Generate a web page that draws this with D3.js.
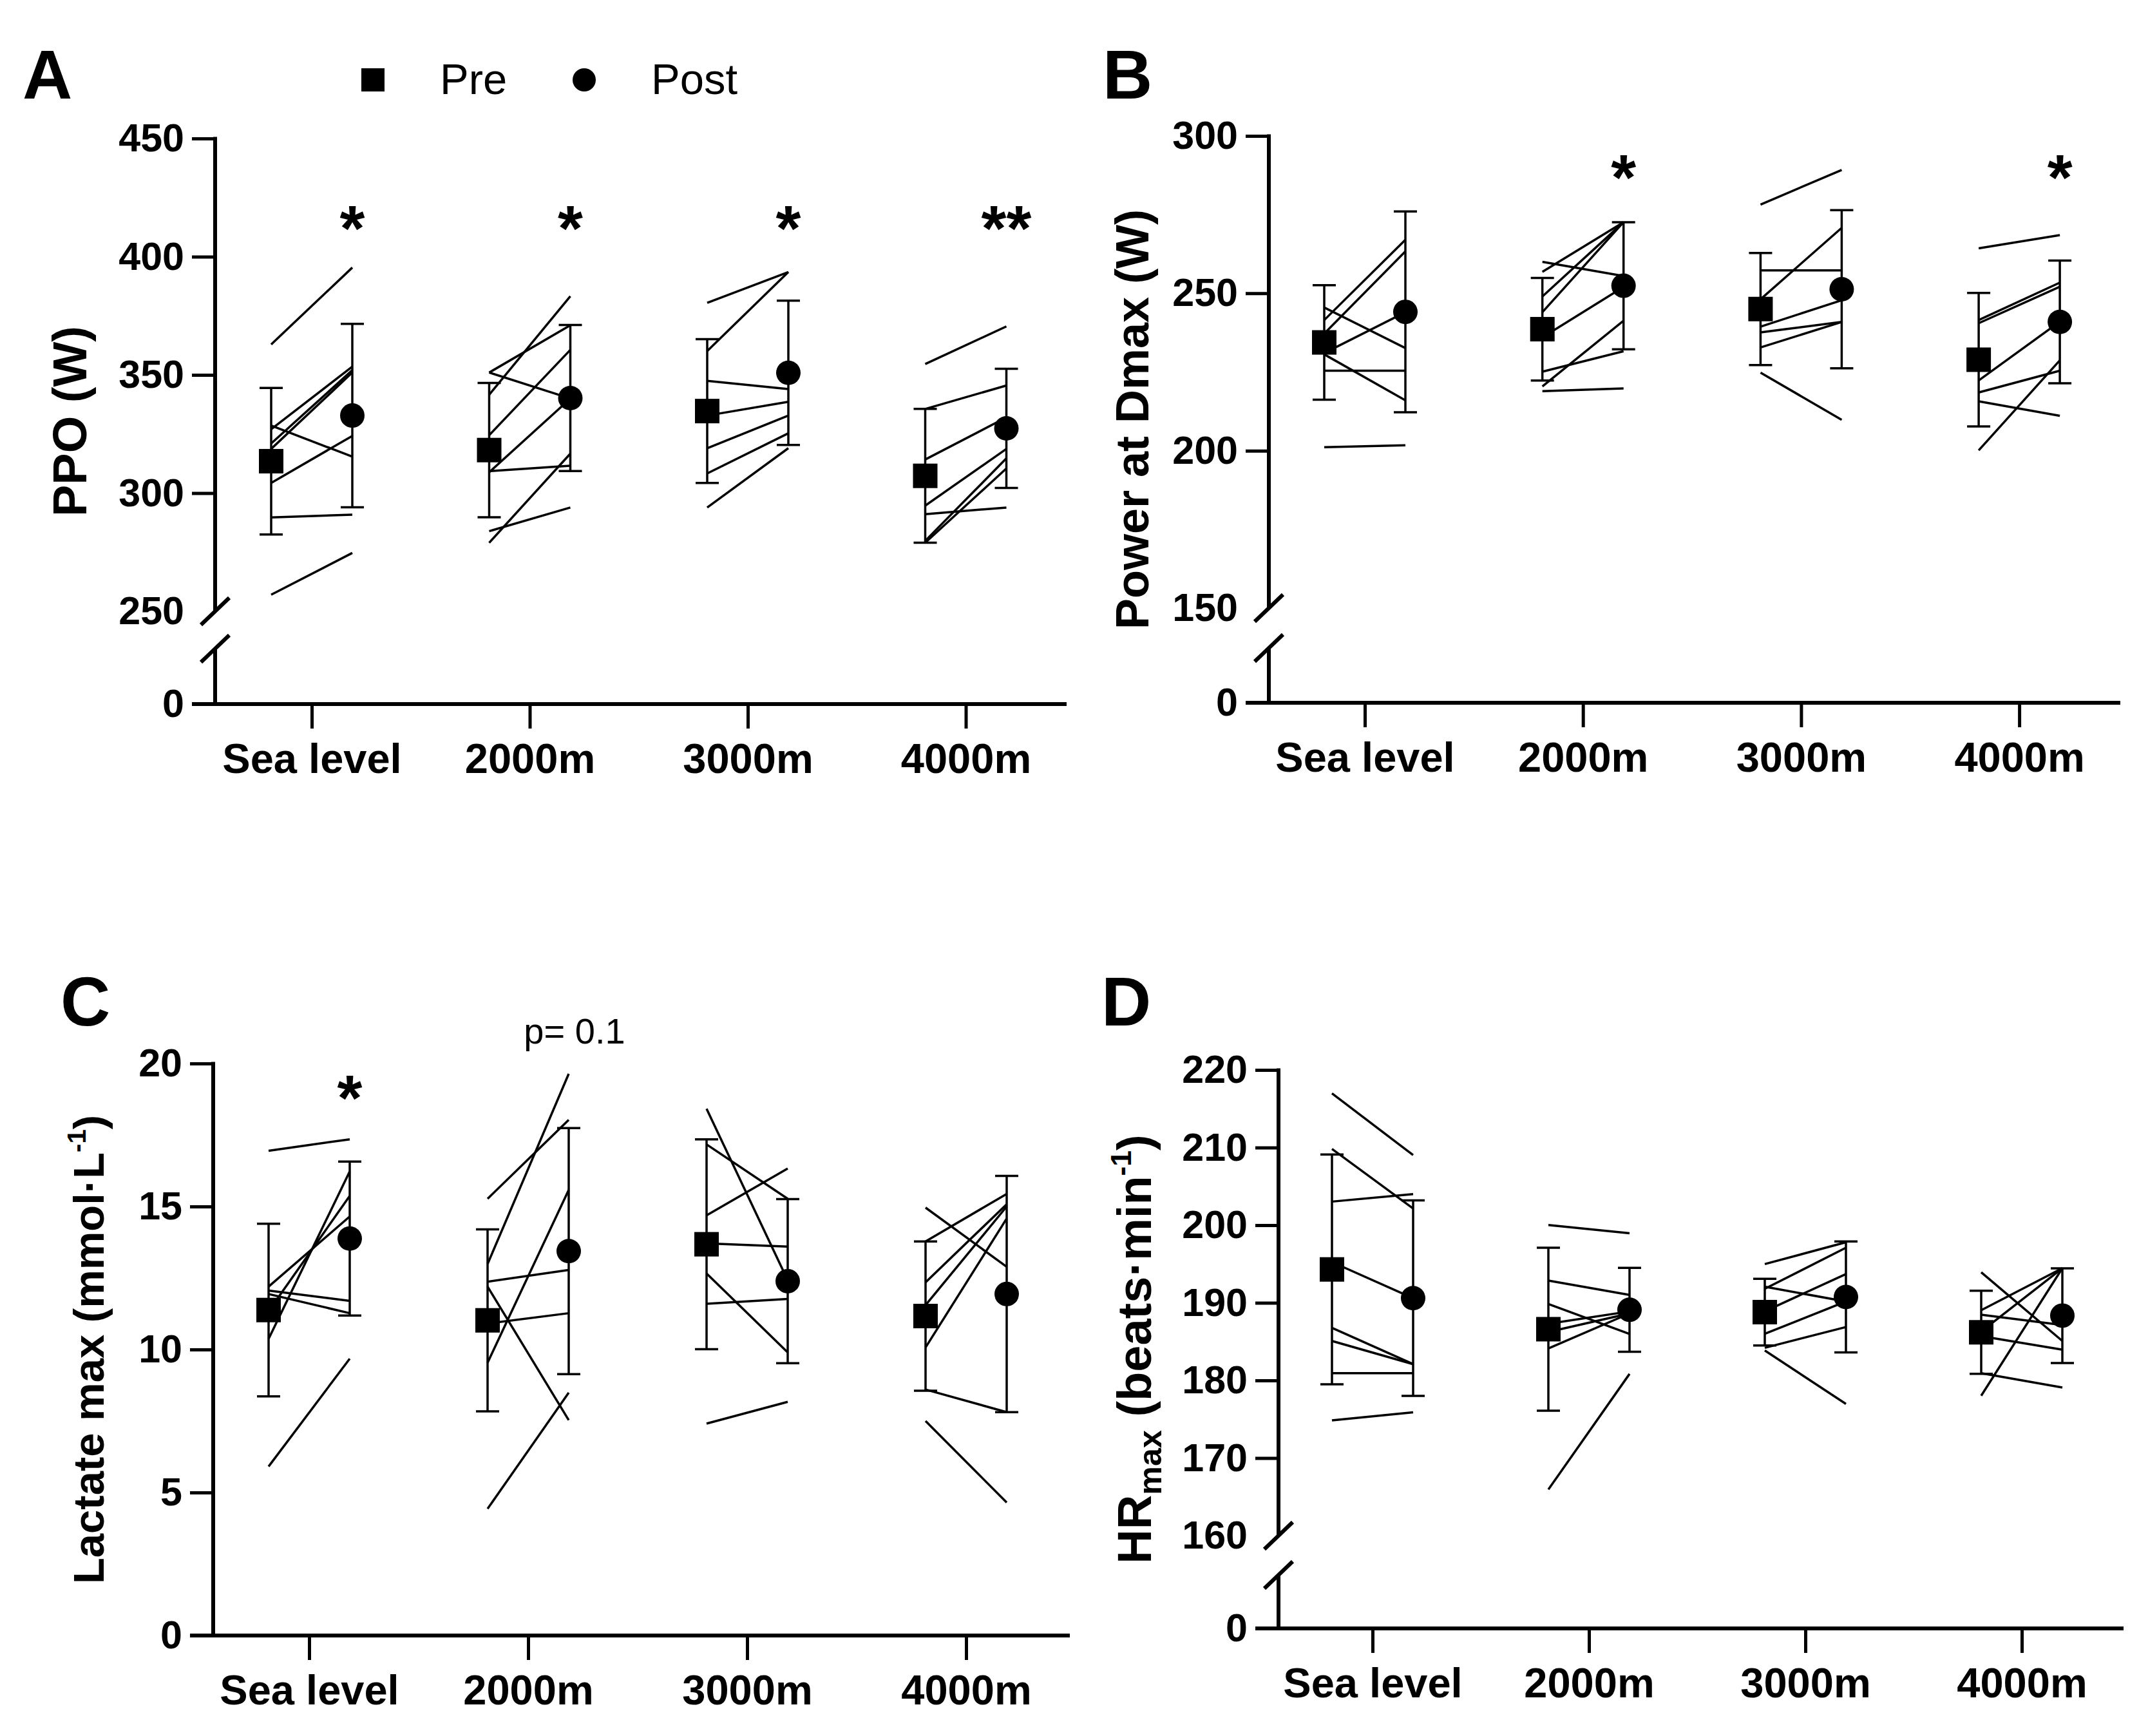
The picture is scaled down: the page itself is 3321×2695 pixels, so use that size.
<!DOCTYPE html>
<html>
<head>
<meta charset="utf-8">
<script src="https://cdn.jsdelivr.net/npm/d3@7"></script>
<style>
  body { margin: 0; background: #fff; }
  svg { display: block; }
  text { font-family: "Liberation Sans", Arial, sans-serif; fill: #000; }
</style>
</head>
<body>
<script>
// categories
const altitudes = ["Sea level", "2000m", "3000m", "4000m"];

// A - peak power output (W), one line per subject
const ppoTicks = [250, 300, 350, 400, 450];
const ppoPre = [
  [362.9, 328.6, 327, 321, 318.7, 304.3, 289.7, 257],
  [341.6, 351, 351, 324.5, 308.8, 309.3, 283.9, 279],
  [380.5, 360.1, 347.5, 332.8, 319, 308.3, 293.9],
  [354.6, 335.6, 314.2, 294.7, 291.1, 279.8, 279]
];
const ppoPost = [
  [395.4, 315.4, 353.5, 352, 351, 324.2, 290.9, 274.7],
  [383.3, 371, 340, 360.6, 340, 311.6, 293.9, 316.7],
  [393.5, 393.5, 344, 338.6, 332.8, 325.3, 319],
  [370.5, 345.5, 332, 318.7, 293.9, 314.7, 310.4]
];
const ppoPreMean = [313.5, 318.2, 334.7, 307.3];
const ppoPreSD = [31, 28.4, 30.4, 28.3];
const ppoPostMean = [332.8, 340.2, 350.9, 327.4];
const ppoPostSD = [38.8, 30.9, 30.5, 25.2];
const ppoStars = ["*", "*", "*", "**"];

// B - power at Dmax (W)
const dmaxTicks = [150, 200, 250, 300];
const dmaxPre = [
  [241.5, 237.2, 245.5, 231, 230.6, 225.4, 201.1],
  [260, 256.8, 249, 244, 236, 225.1, 220.4, 218.9],
  [278.2, 257.3, 248.1, 239.4, 237.6, 232.8, 224.8],
  [264.3, 241.5, 240.5, 222.3, 218.5, 215.7, 200.1]
];
const dmaxPost = [
  [267, 263.3, 232.6, 244, 216, 225.4, 201.7],
  [255.5, 272.6, 272.6, 272.6, 252, 231.6, 241.3, 219.8],
  [289.2, 257.3, 270.8, 247.8, 240.9, 240.9, 209.8],
  [268.5, 253.4, 252.1, 241, 225.4, 211.1, 228.7]
];
const dmaxPreMean = [234.4, 238.6, 245, 228.9];
const dmaxPreSD = [18.2, 16.3, 17.8, 21.2];
const dmaxPostMean = [244.1, 252.4, 251.3, 240.9];
const dmaxPostSD = [31.9, 20.2, 25.1, 19.5];
const dmaxStars = ["", "*", "", "*"];

// C - maximal lactate (mmol/L)
const lacTicks = [0, 5, 10, 15, 20];
const lacPre = [
  [16.95, 12.2, 12.06, 11.94, 11.34, 10.37, 5.91],
  [15.27, 12.99, 12.37, 12.2, 10.91, 9.54, 4.43],
  [18.42, 17.17, 14.69, 13.71, 12.66, 11.6, 7.41],
  [14.96, 13.78, 12.35, 11.55, 10.07, 8.6, 7.5]
];
const lacPost = [
  [17.35, 14.65, 11.7, 11.27, 15.37, 16.23, 9.68],
  [18.03, 19.64, 12.78, 7.53, 11.27, 15.58, 8.49],
  [12.42, 15.27, 16.33, 13.6, 9.9, 11.77, 8.17],
  [12.89, 15.44, 15.08, 15.0, 14.58, 7.81, 4.65]
];
const lacPreMean = [11.38, 11.02, 13.68, 11.17];
const lacPreSD = [3.02, 3.18, 3.67, 2.61];
const lacPostMean = [13.88, 13.44, 12.39, 11.94];
const lacPostSD = [2.69, 4.3, 2.87, 4.13];
const lacStars = ["*", "", "", ""];
const lacNotes = ["", "p= 0.1", "", ""];

// D - maximal heart rate (beats/min)
const hrTicks = [160, 170, 180, 190, 200, 210, 220];
const hrPre = [
  [216.98, 209.83, 203.04, 195.25, 186.77, 185.08, 180.94, 174.85],
  [200.03, 192.87, 189.85, 187.3, 186.24, 184.12, 165.95],
  [194.99, 191.8, 192.07, 188.9, 186.0, 184.2, 183.86],
  [193.93, 189.05, 188.47, 185.71, 186.3, 180.94, 178.03]
];
const hrPost = [
  [209.03, 202.14, 204, 190.59, 182.1, 182.1, 180.94, 175.9],
  [198.96, 191.01, 185.98, 188.89, 188.63, 188.63, 180.84],
  [197.8, 197.1, 190.17, 193.71, 190.17, 186.88, 176.97],
  [185.08, 194.46, 187.14, 183.96, 194.46, 179.09, 194.46]
];
const hrPreMean = [194.3, 186.6, 188.8, 186.2];
const hrPreSD = [14.8, 10.5, 4.3, 5.35];
const hrPostMean = [190.6, 189.1, 190.75, 188.35];
const hrPostSD = [12.6, 5.4, 7.15, 6.1];

const W = 3321, H = 2695;
const svg = d3.select("body").append("svg")
    .attr("width", W)
    .attr("height", H);

// panel layout (pixels)
const panels = [
  {letter: "A", letterX: 35, letterY: 153,
   pre: ppoPre, post: ppoPost, preMean: ppoPreMean, preSD: ppoPreSD, postMean: ppoPostMean, postSD: ppoPostSD,
   ticks: ppoTicks, left: 334, xFirst: 484, xStep: 338.5, xEnd: 1656,
   topY: 215, lowY: 949, breakY: 1007, zeroY: 1093,
   stars: ppoStars, starLevel: 418,
   title: [{t: "PPO (W)"}], titleX: 134, titleSize: 74},
  {letter: "B", letterX: 1712, letterY: 153,
   pre: dmaxPre, post: dmaxPost, preMean: dmaxPreMean, preSD: dmaxPreSD, postMean: dmaxPostMean, postSD: dmaxPostSD,
   ticks: dmaxTicks, left: 1970, xFirst: 2119, xStep: 338.7, xEnd: 3292,
   topY: 211, lowY: 944, breakY: 1006, zeroY: 1091,
   stars: dmaxStars, starLevel: 291.5,
   title: [{t: "Power at Dmax (W)"}], titleX: 1783, titleSize: 72},
  {letter: "C", letterX: 94, letterY: 1592,
   pre: lacPre, post: lacPost, preMean: lacPreMean, preSD: lacPreSD, postMean: lacPostMean, postSD: lacPostSD,
   ticks: lacTicks, left: 331, xFirst: 480, xStep: 340, xEnd: 1661,
   topY: 1651, lowY: 2539, breakY: null, zeroY: 2539,
   stars: lacStars, starLevel: 19.3, notes: lacNotes, noteLevel: 20.7,
   title: [{t: "Lactate max (mmol·L"}, {t: "-1", sup: true}, {t: ")"}], titleX: 161, titleSize: 67},
  {letter: "D", letterX: 1710, letterY: 1592,
   pre: hrPre, post: hrPost, preMean: hrPreMean, preSD: hrPreSD, postMean: hrPostMean, postSD: hrPostSD,
   ticks: hrTicks, left: 1985, xFirst: 2131, xStep: 336, xEnd: 3297,
   topY: 1661, lowY: 2384, breakY: 2445, zeroY: 2528,
   stars: null, starLevel: 0,
   title: [{t: "HR"}, {t: "max", sub: true}, {t: " (beats·min"}, {t: "-1", sup: true}, {t: ")"}], titleX: 1787, titleSize: 74}
];

const offset = 63;      // pre / post shift from the category tick
const axisW = 6, lineW = 3.5;
const tickFont = "61px";

panels.forEach(drawPanel);

function drawPanel(p) {
  const g = svg.append("g");

  const x = d3.scalePoint()
      .domain(altitudes)
      .range([p.xFirst, p.xFirst + 3 * p.xStep]);
  const y = d3.scaleLinear()
      .domain([p.ticks[0], p.ticks[p.ticks.length - 1]])
      .range([p.lowY, p.topY]);

  // y axis (upper part)
  const yAx = g.append("g")
      .attr("transform", `translate(${p.left},0)`)
      .call(d3.axisLeft(y).tickValues(p.ticks).tickSize(36).tickPadding(12).tickSizeOuter(0));
  yAx.select(".domain").remove();
  yAx.selectAll("line").attr("stroke", "#000").attr("stroke-width", 5);
  yAx.selectAll("text").style("font-size", tickFont).style("font-weight", "bold");
  if (p.breakY) {
    // broken axis: no tick at the lowest value
    yAx.selectAll(".tick").filter(d => d === p.ticks[0]).select("line").remove();
  }

  g.append("line")
      .attr("x1", p.left).attr("x2", p.left)
      .attr("y1", p.topY - 2.5).attr("y2", p.breakY ? p.lowY : p.zeroY)
      .attr("stroke", "#000").attr("stroke-width", axisW);

  if (p.breakY) {
    // lower stub with the zero tick
    const y0 = d3.scaleLinear().domain([0, p.ticks[0]]).range([p.zeroY, p.lowY]);
    const zAx = g.append("g")
        .attr("transform", `translate(${p.left},0)`)
        .call(d3.axisLeft(y0).tickValues([0]).tickSize(36).tickPadding(12).tickSizeOuter(0));
    zAx.select(".domain").remove();
    zAx.selectAll("line").attr("stroke", "#000").attr("stroke-width", 5);
    zAx.selectAll("text").style("font-size", tickFont).style("font-weight", "bold");
    g.append("line")
        .attr("x1", p.left).attr("x2", p.left)
        .attr("y1", p.breakY).attr("y2", p.zeroY)
        .attr("stroke", "#000").attr("stroke-width", axisW);
    [p.lowY, p.breakY].forEach(by => {
      g.append("line")
          .attr("x1", p.left - 22).attr("y1", by + 21)
          .attr("x2", p.left + 22).attr("y2", by - 21)
          .attr("stroke", "#000").attr("stroke-width", axisW);
    });
  }

  // x axis
  const xAx = g.append("g")
      .attr("transform", `translate(0,${p.zeroY})`)
      .call(d3.axisBottom(x).tickSize(38).tickPadding(23).tickSizeOuter(0));
  xAx.select(".domain").remove();
  xAx.selectAll("line").attr("stroke", "#000").attr("stroke-width", 5);
  xAx.selectAll("text").style("font-size", "65px").style("font-weight", "bold");
  g.append("line")
      .attr("x1", p.left - 36).attr("x2", p.xEnd)
      .attr("y1", p.zeroY).attr("y2", p.zeroY)
      .attr("stroke", "#000").attr("stroke-width", axisW);

  // individual subjects
  altitudes.forEach((alt, i) => {
    const pairs = p.pre[i].map((v, j) => [v, p.post[i][j]]);
    g.selectAll(null)
        .data(pairs)
        .enter().append("line")
        .attr("x1", x(alt) - offset).attr("x2", x(alt) + offset)
        .attr("y1", d => y(d[0])).attr("y2", d => y(d[1]))
        .attr("stroke", "#000").attr("stroke-width", lineW);
  });

  // mean +/- SD
  const summary = [];
  altitudes.forEach((alt, i) => {
    summary.push({cx: x(alt) - offset, m: p.preMean[i], sd: p.preSD[i], type: "pre"});
    summary.push({cx: x(alt) + offset, m: p.postMean[i], sd: p.postSD[i], type: "post"});
  });
  const eb = g.selectAll(".eb").data(summary).enter().append("g").attr("class", "eb");
  eb.append("line")
      .attr("x1", d => d.cx).attr("x2", d => d.cx)
      .attr("y1", d => y(d.m - d.sd)).attr("y2", d => y(d.m + d.sd))
      .attr("stroke", "#000").attr("stroke-width", lineW);
  [-1, 1].forEach(s => {
    eb.append("line")
        .attr("x1", d => d.cx - 18).attr("x2", d => d.cx + 18)
        .attr("y1", d => y(d.m + s * d.sd)).attr("y2", d => y(d.m + s * d.sd))
        .attr("stroke", "#000").attr("stroke-width", lineW);
  });
  eb.filter(d => d.type === "pre").append("rect")
      .attr("x", d => d.cx - 19).attr("y", d => y(d.m) - 19)
      .attr("width", 38).attr("height", 38)
      .attr("fill", "#000");
  eb.filter(d => d.type === "post").append("circle")
      .attr("cx", d => d.cx).attr("cy", d => y(d.m))
      .attr("r", 19)
      .attr("fill", "#000");

  // significance marks
  if (p.stars) {
    g.selectAll(".star")
        .data(altitudes.map((a, i) => ({a: a, s: p.stars[i]})).filter(d => d.s))
        .enter().append("text")
        .attr("x", d => x(d.a) + offset)
        .attr("y", y(p.starLevel))
        .attr("dy", "0.57em")
        .attr("text-anchor", "middle")
        .style("font-size", "100px")
        .style("font-weight", "bold")
        .text(d => d.s);
  }
  if (p.notes) {
    g.selectAll(".note")
        .data(altitudes.map((a, i) => ({a: a, s: p.notes[i]})).filter(d => d.s))
        .enter().append("text")
        .attr("x", d => x(d.a) + offset + 9)
        .attr("y", y(p.noteLevel))
        .attr("text-anchor", "middle")
        .style("font-size", "56px")
        .text(d => d.s);
  }

  // y title
  const cy = (p.topY + p.zeroY) / 2;
  const tt = g.append("text")
      .attr("transform", `translate(${p.titleX},${cy}) rotate(-90)`)
      .attr("text-anchor", "middle")
      .style("font-size", p.titleSize + "px")
      .style("font-weight", "bold");
  let shift = 0;
  p.title.forEach(part => {
    const ts = tt.append("tspan").text(part.t);
    let target = 0;
    if (part.sup) { target = -0.42 * p.titleSize; ts.style("font-size", (0.6 * p.titleSize) + "px"); }
    if (part.sub) { target = 0.22 * p.titleSize; ts.style("font-size", (0.68 * p.titleSize) + "px"); }
    if (target !== shift) { ts.attr("dy", target - shift); shift = target; }
  });

  // panel letter
  svg.append("text")
      .attr("x", p.letterX).attr("y", p.letterY)
      .style("font-size", "107px")
      .style("font-weight", "bold")
      .text(p.letter);
}

// legend
const legend = svg.append("g");
legend.append("rect")
    .attr("x", 561).attr("y", 106).attr("width", 36).attr("height", 36)
    .attr("fill", "#000");
legend.append("text")
    .attr("x", 683).attr("y", 146)
    .style("font-size", "67px")
    .text("Pre");
legend.append("circle")
    .attr("cx", 907).attr("cy", 124).attr("r", 18)
    .attr("fill", "#000");
legend.append("text")
    .attr("x", 1011).attr("y", 146)
    .style("font-size", "67px")
    .text("Post");
</script>
</body>
</html>
